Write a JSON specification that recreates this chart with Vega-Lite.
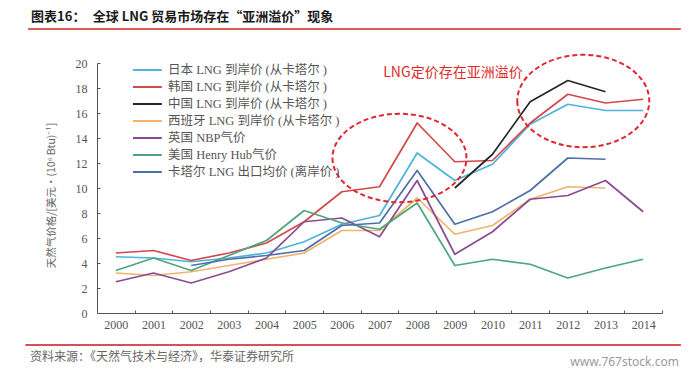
{
  "$schema": "https://vega.github.io/schema/vega-lite/v6.json",
  "width": 565,
  "height": 250,
  "autosize": "none",
  "padding": {"left": 97, "top": 63, "right": 30, "bottom": 60},
  "config": {
    "view": {"stroke": null},
    "font": "Noto Sans CJK SC",
    "axis": {"labelOverlap": false, "labelFlush": false, "labelBound": false},
    "axisY": {"titleColor": "#666666", "labelOverlap": false, "tickCount": 11}
  },
  "datasets": {
    "prices": [
      {"year": 2000, "series": "日本 LNG 到岸价 (从卡塔尔 )", "value": 4.5},
      {"year": 2001, "series": "日本 LNG 到岸价 (从卡塔尔 )", "value": 4.4},
      {"year": 2002, "series": "日本 LNG 到岸价 (从卡塔尔 )", "value": 4.1},
      {"year": 2003, "series": "日本 LNG 到岸价 (从卡塔尔 )", "value": 4.4},
      {"year": 2004, "series": "日本 LNG 到岸价 (从卡塔尔 )", "value": 4.8},
      {"year": 2005, "series": "日本 LNG 到岸价 (从卡塔尔 )", "value": 5.7},
      {"year": 2006, "series": "日本 LNG 到岸价 (从卡塔尔 )", "value": 7.1},
      {"year": 2007, "series": "日本 LNG 到岸价 (从卡塔尔 )", "value": 7.8},
      {"year": 2008, "series": "日本 LNG 到岸价 (从卡塔尔 )", "value": 12.8},
      {"year": 2009, "series": "日本 LNG 到岸价 (从卡塔尔 )", "value": 10.6},
      {"year": 2010, "series": "日本 LNG 到岸价 (从卡塔尔 )", "value": 11.9},
      {"year": 2011, "series": "日本 LNG 到岸价 (从卡塔尔 )", "value": 15.1},
      {"year": 2012, "series": "日本 LNG 到岸价 (从卡塔尔 )", "value": 16.7},
      {"year": 2013, "series": "日本 LNG 到岸价 (从卡塔尔 )", "value": 16.2},
      {"year": 2014, "series": "日本 LNG 到岸价 (从卡塔尔 )", "value": 16.2},
      {"year": 2000, "series": "韩国 LNG 到岸价 (从卡塔尔 )", "value": 4.8},
      {"year": 2001, "series": "韩国 LNG 到岸价 (从卡塔尔 )", "value": 5.0},
      {"year": 2002, "series": "韩国 LNG 到岸价 (从卡塔尔 )", "value": 4.2},
      {"year": 2003, "series": "韩国 LNG 到岸价 (从卡塔尔 )", "value": 4.8},
      {"year": 2004, "series": "韩国 LNG 到岸价 (从卡塔尔 )", "value": 5.6},
      {"year": 2005, "series": "韩国 LNG 到岸价 (从卡塔尔 )", "value": 7.3},
      {"year": 2006, "series": "韩国 LNG 到岸价 (从卡塔尔 )", "value": 9.7},
      {"year": 2007, "series": "韩国 LNG 到岸价 (从卡塔尔 )", "value": 10.1},
      {"year": 2008, "series": "韩国 LNG 到岸价 (从卡塔尔 )", "value": 15.2},
      {"year": 2009, "series": "韩国 LNG 到岸价 (从卡塔尔 )", "value": 12.1},
      {"year": 2010, "series": "韩国 LNG 到岸价 (从卡塔尔 )", "value": 12.2},
      {"year": 2011, "series": "韩国 LNG 到岸价 (从卡塔尔 )", "value": 15.2},
      {"year": 2012, "series": "韩国 LNG 到岸价 (从卡塔尔 )", "value": 17.5},
      {"year": 2013, "series": "韩国 LNG 到岸价 (从卡塔尔 )", "value": 16.8},
      {"year": 2014, "series": "韩国 LNG 到岸价 (从卡塔尔 )", "value": 17.1},
      {"year": 2009, "series": "中国 LNG 到岸价 (从卡塔尔 )", "value": 10.0},
      {"year": 2010, "series": "中国 LNG 到岸价 (从卡塔尔 )", "value": 12.7},
      {"year": 2011, "series": "中国 LNG 到岸价 (从卡塔尔 )", "value": 16.9},
      {"year": 2012, "series": "中国 LNG 到岸价 (从卡塔尔 )", "value": 18.6},
      {"year": 2013, "series": "中国 LNG 到岸价 (从卡塔尔 )", "value": 17.7},
      {"year": 2000, "series": "西班牙 LNG 到岸价 (从卡塔尔 )", "value": 3.2},
      {"year": 2001, "series": "西班牙 LNG 到岸价 (从卡塔尔 )", "value": 3.0},
      {"year": 2002, "series": "西班牙 LNG 到岸价 (从卡塔尔 )", "value": 3.3},
      {"year": 2003, "series": "西班牙 LNG 到岸价 (从卡塔尔 )", "value": 3.8},
      {"year": 2004, "series": "西班牙 LNG 到岸价 (从卡塔尔 )", "value": 4.3},
      {"year": 2005, "series": "西班牙 LNG 到岸价 (从卡塔尔 )", "value": 4.8},
      {"year": 2006, "series": "西班牙 LNG 到岸价 (从卡塔尔 )", "value": 6.6},
      {"year": 2007, "series": "西班牙 LNG 到岸价 (从卡塔尔 )", "value": 6.6},
      {"year": 2008, "series": "西班牙 LNG 到岸价 (从卡塔尔 )", "value": 9.2},
      {"year": 2009, "series": "西班牙 LNG 到岸价 (从卡塔尔 )", "value": 6.3},
      {"year": 2010, "series": "西班牙 LNG 到岸价 (从卡塔尔 )", "value": 7.0},
      {"year": 2011, "series": "西班牙 LNG 到岸价 (从卡塔尔 )", "value": 9.1},
      {"year": 2012, "series": "西班牙 LNG 到岸价 (从卡塔尔 )", "value": 10.1},
      {"year": 2013, "series": "西班牙 LNG 到岸价 (从卡塔尔 )", "value": 10.0},
      {"year": 2000, "series": "英国 NBP气价", "value": 2.5},
      {"year": 2001, "series": "英国 NBP气价", "value": 3.2},
      {"year": 2002, "series": "英国 NBP气价", "value": 2.4},
      {"year": 2003, "series": "英国 NBP气价", "value": 3.3},
      {"year": 2004, "series": "英国 NBP气价", "value": 4.4},
      {"year": 2005, "series": "英国 NBP气价", "value": 7.3},
      {"year": 2006, "series": "英国 NBP气价", "value": 7.6},
      {"year": 2007, "series": "英国 NBP气价", "value": 6.1},
      {"year": 2008, "series": "英国 NBP气价", "value": 10.6},
      {"year": 2009, "series": "英国 NBP气价", "value": 4.7},
      {"year": 2010, "series": "英国 NBP气价", "value": 6.5},
      {"year": 2011, "series": "英国 NBP气价", "value": 9.1},
      {"year": 2012, "series": "英国 NBP气价", "value": 9.4},
      {"year": 2013, "series": "英国 NBP气价", "value": 10.6},
      {"year": 2014, "series": "英国 NBP气价", "value": 8.1},
      {"year": 2000, "series": "美国 Henry Hub气价", "value": 3.4},
      {"year": 2001, "series": "美国 Henry Hub气价", "value": 4.4},
      {"year": 2002, "series": "美国 Henry Hub气价", "value": 3.4},
      {"year": 2003, "series": "美国 Henry Hub气价", "value": 4.6},
      {"year": 2004, "series": "美国 Henry Hub气价", "value": 5.8},
      {"year": 2005, "series": "美国 Henry Hub气价", "value": 8.2},
      {"year": 2006, "series": "美国 Henry Hub气价", "value": 7.2},
      {"year": 2007, "series": "美国 Henry Hub气价", "value": 6.7},
      {"year": 2008, "series": "美国 Henry Hub气价", "value": 8.8},
      {"year": 2009, "series": "美国 Henry Hub气价", "value": 3.8},
      {"year": 2010, "series": "美国 Henry Hub气价", "value": 4.3},
      {"year": 2011, "series": "美国 Henry Hub气价", "value": 3.9},
      {"year": 2012, "series": "美国 Henry Hub气价", "value": 2.8},
      {"year": 2013, "series": "美国 Henry Hub气价", "value": 3.6},
      {"year": 2014, "series": "美国 Henry Hub气价", "value": 4.3},
      {"year": 2002, "series": "卡塔尔 LNG 出口均价 (离岸价 )", "value": 3.8},
      {"year": 2003, "series": "卡塔尔 LNG 出口均价 (离岸价 )", "value": 4.3},
      {"year": 2004, "series": "卡塔尔 LNG 出口均价 (离岸价 )", "value": 4.6},
      {"year": 2005, "series": "卡塔尔 LNG 出口均价 (离岸价 )", "value": 5.0},
      {"year": 2006, "series": "卡塔尔 LNG 出口均价 (离岸价 )", "value": 7.0},
      {"year": 2007, "series": "卡塔尔 LNG 出口均价 (离岸价 )", "value": 7.2},
      {"year": 2008, "series": "卡塔尔 LNG 出口均价 (离岸价 )", "value": 11.4},
      {"year": 2009, "series": "卡塔尔 LNG 出口均价 (离岸价 )", "value": 7.1},
      {"year": 2010, "series": "卡塔尔 LNG 出口均价 (离岸价 )", "value": 8.1},
      {"year": 2011, "series": "卡塔尔 LNG 出口均价 (离岸价 )", "value": 9.8},
      {"year": 2012, "series": "卡塔尔 LNG 出口均价 (离岸价 )", "value": 12.4},
      {"year": 2013, "series": "卡塔尔 LNG 出口均价 (离岸价 )", "value": 12.3}
    ],
    "one": [{}]
  },
  "layer": [
    {
      "data": {"name": "prices"},
      "mark": {"type": "line", "strokeWidth": 1.7, "strokeJoin": "round"},
      "encoding": {
        "x": {
          "field": "year", "type": "quantitative",
          "scale": {"domain": [1999.5, 2014.5], "nice": false, "zero": false},
          "axis": {
            "title": null, "grid": false,
            "values": [2000.5, 2001.5, 2002.5, 2003.5, 2004.5, 2005.5, 2006.5, 2007.5, 2008.5, 2009.5, 2010.5, 2011.5, 2012.5, 2013.5, 2014.5],
            "labelExpr": "format(datum.value - 0.5, 'd')",
            "labelOffset": -18.8, "labelFlush": false, "labelOverlap": false, "labelBound": false,
            "tickSize": -3, "tickColor": "#555", "domainColor": "#555",
            "labelPadding": 9, "labelFont": "Liberation Serif", "labelFontSize": 12, "labelColor": "#555"
          }
        },
        "y": {
          "field": "value", "type": "quantitative",
          "scale": {"domain": [0, 20], "nice": false},
          "axis": {
            "title": "天然气价格/[美元·(10⁶ Btu)⁻¹]",
            "titleFont": "Noto Sans CJK SC", "titleFontSize": 10.5, "titleFontWeight": "normal", "titleColor": "#666666",
            "titleX": -46, "titleY": 132, "titleAngle": -90, "titleAlign": "center", "titleBaseline": "middle",
            "grid": false,
            "tickCount": 11,
            "values": [0, 2, 4, 6, 8, 10, 12, 14, 16, 18, 20],
            "labelOverlap": false, "labelFlush": false, "labelBound": false,
            "tickSize": -3, "tickColor": "#555", "domainColor": "#555",
            "labelPadding": 13, "labelFont": "Liberation Serif", "labelFontSize": 12, "labelColor": "#555"
          }
        },
        "color": {
          "field": "series", "type": "nominal",
          "scale": {
            "domain": ["日本 LNG 到岸价 (从卡塔尔 )", "韩国 LNG 到岸价 (从卡塔尔 )", "中国 LNG 到岸价 (从卡塔尔 )", "西班牙 LNG 到岸价 (从卡塔尔 )", "英国 NBP气价", "美国 Henry Hub气价", "卡塔尔 LNG 出口均价 (离岸价 )"],
            "range": ["#4fb3d9", "#d2494d", "#262626", "#f3b26c", "#8a4b93", "#4ea57d", "#4d6fa8"]
          },
          "legend": {
            "title": null, "orient": "none", "legendX": 43.4, "legendY": 0, "padding": 0,
            "symbolType": "M-2.4,0H2.4", "symbolSize": 144, "symbolStrokeWidth": 2,
            "labelOffset": 13.6, "rowPadding": 3,
            "labelFont": "'Liberation Serif', 'Noto Sans CJK SC'", "labelFontSize": 12.5, "labelColor": "#555", "labelLimit": 400
          }
        }
      }
    },
    {
      "data": {"name": "one"},
      "mark": {"type": "point", "shape": "M-1,0A1,0.66,0,1,0,1,0A1,0.66,0,1,0,-1,0", "size": 17956, "filled": false, "stroke": "#e3262b", "strokeWidth": 2, "strokeDash": [5, 3], "opacity": 1},
      "encoding": {"x": {"datum": 2007.53}, "y": {"datum": 12.4}}
    },
    {
      "data": {"name": "one"},
      "mark": {"type": "point", "shape": "M-1,0A1,0.7,0,1,0,1,0A1,0.7,0,1,0,-1,0", "size": 17424, "filled": false, "stroke": "#e3262b", "strokeWidth": 2, "strokeDash": [5, 3], "opacity": 1},
      "encoding": {"x": {"datum": 2012.41}, "y": {"datum": 16.96}}
    },
    {
      "data": {"name": "one"},
      "mark": {"type": "text", "text": "LNG定价存在亚洲溢价", "font": "Noto Sans CJK SC", "fontSize": 14, "color": "#e02a2a", "align": "center", "baseline": "middle"},
      "encoding": {"x": {"datum": 2008.95}, "y": {"datum": 19.24}}
    },
    {
      "data": {"name": "one"},
      "mark": {"type": "text", "text": "图表16：", "font": "Noto Sans CJK SC", "fontWeight": "bold", "fontSize": 13, "color": "#1a1a1a", "align": "left", "baseline": "middle"},
      "encoding": {"x": {"datum": 1997.75}, "y": {"datum": 23.68}}
    },
    {
      "data": {"name": "one"},
      "mark": {"type": "text", "text": "全球 LNG 贸易市场存在“亚洲溢价”现象", "font": "Noto Sans CJK SC", "fontWeight": "bold", "fontSize": 13, "color": "#1a1a1a", "align": "left", "baseline": "middle"},
      "encoding": {"x": {"datum": 1999.39}, "y": {"datum": 23.68}}
    },
    {
      "data": {"name": "one"},
      "mark": {"type": "rule", "color": "#d9251d", "strokeWidth": 1.5},
      "encoding": {"x": {"datum": 1997.67}, "x2": {"datum": 2015.0}, "y": {"datum": 22.72}}
    },
    {
      "data": {"name": "one"},
      "mark": {"type": "rule", "color": "#c8161d", "strokeWidth": 1.5},
      "encoding": {"x": {"datum": 1997.6}, "x2": {"datum": 2015.0}, "y": {"datum": -2.56}}
    },
    {
      "data": {"name": "one"},
      "mark": {"type": "text", "text": "资料来源：《天然气技术与经济》，华泰证券研究所", "font": "Noto Sans CJK SC", "fontSize": 12, "color": "#666", "align": "left", "baseline": "middle"},
      "encoding": {"x": {"datum": 1997.72}, "y": {"datum": -3.52}}
    },
    {
      "data": {"name": "one"},
      "mark": {"type": "text", "text": "www.767stock.com", "font": "Noto Sans", "fontSize": 12, "color": "#9a9a9a", "align": "right", "baseline": "middle"},
      "encoding": {"x": {"datum": 2014.95}, "y": {"datum": -3.92}}
    }
  ]
}
